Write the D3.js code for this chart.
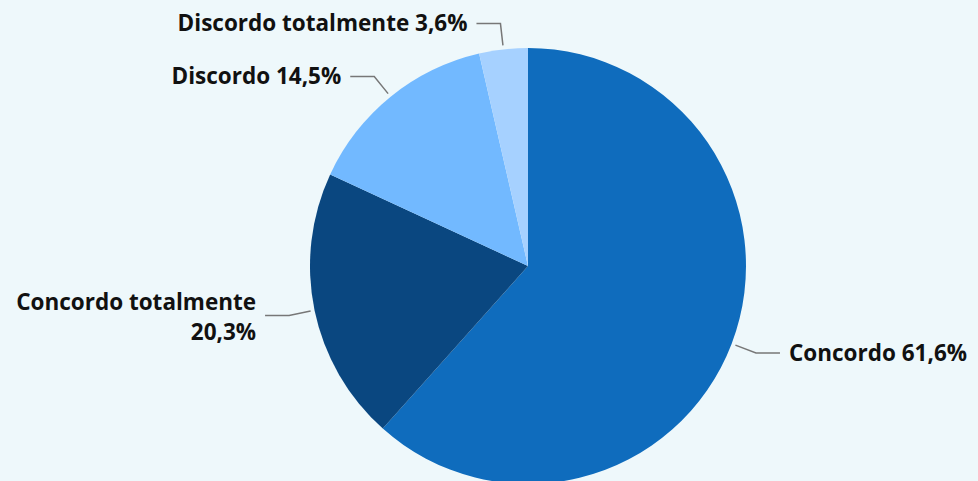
<!DOCTYPE html>
<html>
<head>
<meta charset="utf-8">
<script src="https://cdn.jsdelivr.net/npm/d3@7"></script>
<style>
  html, body { margin: 0; padding: 0; background: #eef8fb; }
  svg { display: block; }
  .lbl { font-family: "Open Sans", "Noto Sans", sans-serif; font-weight: 700; font-size: 22.5px; fill: #111; }
</style>
</head>
<body>
<svg width="978" height="481"></svg>
<script>
// chart data
const categories = ["Concordo", "Concordo totalmente", "Discordo", "Discordo totalmente"];
const values = [61.6, 20.3, 14.5, 3.6];
const labels = [["Concordo 61,6%"], ["Concordo totalmente", "20,3%"], ["Discordo 14,5%"], ["Discordo totalmente 3,6%"]];
const colors = ["#0f6cbd", "#0a4780", "#72b9ff", "#a6d1ff"];

var svg = d3.select("svg"),
    cx = 528, cy = 266, r = 218;

var data = categories.map((c, i) => ({ name: c, value: values[i], lines: labels[i], color: colors[i] }));

var pie = d3.pie().sort(null).value(d => d.value);
var arc = d3.arc().innerRadius(0).outerRadius(r);
var arcs = pie(data);

var g = svg.append("g").attr("transform", "translate(" + cx + "," + cy + ")");

g.selectAll("path.slice")
  .data(arcs)
  .enter().append("path")
  .attr("class", "slice")
  .attr("d", arc)
  .attr("fill", d => d.data.color);

function pt(a, rad) { return [Math.sin(a) * rad, -Math.cos(a) * rad]; }

arcs.forEach(d => {
  var mid = (d.startAngle + d.endAngle) / 2;
  var p0 = pt(mid, r + 4), p1 = pt(mid, r + 26);
  var right = p1[0] >= 0;
  var p2 = [p1[0] + (right ? 24 : -24), p1[1]];
  g.append("polyline")
    .attr("points", [p0, p1, p2].map(p => p.join(",")).join(" "))
    .attr("fill", "none")
    .attr("stroke", "#777")
    .attr("stroke-width", 1.5);

  var n = d.data.lines.length, lh = 30;
  var tx = p2[0] + (right ? 9 : -9);
  var t = g.append("text")
    .attr("class", "lbl")
    .attr("text-anchor", right ? "start" : "end")
    .attr("x", tx)
    .attr("y", p2[1] - (n > 1 ? 13 : 0));
  d.data.lines.forEach((line, i) => {
    t.append("tspan")
      .attr("x", tx)
      .attr("dy", i === 0 ? "0.35em" : lh)
      .text(line);
  });
});
</script>
</body>
</html>
